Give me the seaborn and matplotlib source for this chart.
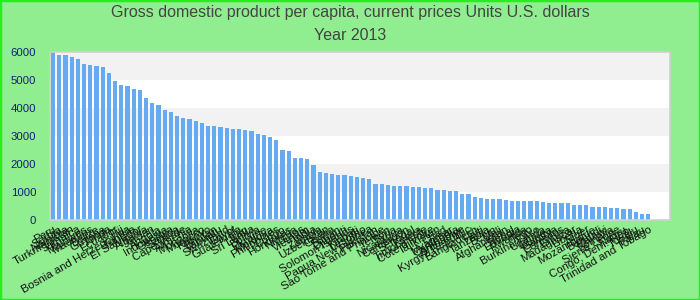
import matplotlib
matplotlib.use("Agg")
import matplotlib.pyplot as plt
import seaborn as sns
import pandas as pd
from matplotlib.patches import Rectangle

countries = [
    "Peru", "Serbia", "Namibia", "Turkmenistan", "Jamaica", "Maldives", "Mauritius",
    "Belize", "Guyana", "Tonga", "Ecuador", "Fiji", "Bosnia and Herzegovina", "Tunisia",
    "El Salvador", "Albania", "Jordan", "Angola", "Indonesia", "Georgia", "Samoa",
    "Cape Verde", "Armenia", "Mongolia", "Morocco", "Kosovo", "Bhutan", "Vanuatu",
    "Swaziland", "Egypt", "Guatemala", "Iraq", "Sri Lanka", "Bolivia", "Ukraine",
    "Moldova", "Philippines", "Congo", "Honduras", "Nigeria", "Laos", "Vietnam",
    "India", "Zambia", "Uzbekistan", "Ghana", "Sudan", "Djibouti", "Solomon Islands",
    "Kiribati", "Lesotho", "Papua New Guinea", "Pakistan", "Sao Tome and Principe",
    "Yemen", "Syria", "Nicaragua", "Cameroon", "Senegal", "Kenya", "Timor-Leste",
    "Cote d'Ivoire", "Tajikistan", "Chad", "Myanmar", "Cambodia", "Zimbabwe",
    "Kyrgyz Republic", "Bangladesh", "Haiti", "Tanzania", "Benin", "Mali",
    "Afghanistan", "Nepal", "Ethiopia", "Rwanda", "Togo", "Burkina Faso", "Uganda",
    "Guinea", "Gambia", "Comoros", "Eritrea", "Madagascar", "Liberia", "Niger",
    "Mozambique", "Burundi", "Malawi", "Somalia", "Sierra Leone", "Nauru",
    "Congo, Dem. Rep.", "Tuvalu", "Palau", "Trinidad and Tobago",
]

gdp_per_capita = [
    5990, 5880, 5880, 5810, 5740, 5560, 5525, 5490, 5450, 5240, 4955, 4810, 4775,
    4670, 4635, 4350, 4170, 4100, 3920, 3850, 3705, 3635, 3600, 3530, 3460, 3350,
    3350, 3315, 3280, 3245, 3245, 3210, 3170, 3065, 3030, 2960, 2850, 2495, 2460,
    2210, 2210, 2175, 1960, 1710, 1675, 1640, 1605, 1605, 1570, 1535, 1495, 1460,
    1285, 1285, 1245, 1210, 1210, 1210, 1175, 1175, 1140, 1140, 1070, 1070, 1035,
    1035, 925, 925, 820, 785, 750, 750, 750, 715, 680, 680, 680, 680, 680, 640,
    605, 605, 605, 605, 535, 535, 535, 465, 465, 465, 430, 430, 390, 390, 285,
    215, 215,
]

title_line1 = "Gross domestic product per capita, current prices Units U.S. dollars"
title_line2 = "Year 2013"
y_ticks = [0, 1000, 2000, 3000, 4000, 5000, 6000]

df = pd.DataFrame({"country": countries, "value": gdp_per_capita})

sns.set_style("white")
plt.rcParams["font.family"] = ["Liberation Sans", "DejaVu Sans"]

fig = plt.figure(figsize=(7, 3), dpi=100, facecolor="#90ee90")
ax = fig.add_axes([50 / 700, 80 / 300, 620 / 700, 168.3 / 300])
ax.set_facecolor("white")

for lo in (1000, 3000, 5000):
    ax.axhspan(lo, lo + 1000, color="#f2f2f2", zorder=0, lw=0)

sns.barplot(data=df, x="country", y="value", color="#66aaf2", saturation=1,
            width=0.65, linewidth=0, ax=ax, zorder=2)

ax.set_xlim(-0.5, 99.5)
ax.set_ylim(0, 6000)
ax.set_yticks(y_ticks)
ax.set_yticklabels([str(t) for t in y_ticks], color="#1a1a7a", fontsize=8.2)
ax.tick_params(axis="both", length=0)
ax.tick_params(axis="y", pad=10)
ax.tick_params(axis="x", pad=3)
for lab in ax.get_xticklabels():
    lab.set_rotation(30)
    lab.set_ha("right")
    lab.set_rotation_mode("anchor")
    lab.set_fontsize(8.2)
    lab.set_color("#111111")
ax.set_xlabel("")
ax.set_ylabel("")
for s in ax.spines.values():
    s.set_color("#d0d0d0")
    s.set_linewidth(1.2)

fig.text(0.5, 1 - 12 / 300, title_line1, ha="center", va="center",
         fontsize=11.5, color="#444444")
fig.text(0.5, 1 - 36 / 300, title_line2, ha="center", va="center",
         fontsize=11.5, color="#444444")

fig.patches.append(Rectangle((0, 0), 1, 1, transform=fig.transFigure,
                             fill=False, edgecolor="#22ee22", linewidth=2.5,
                             zorder=10))

fig.savefig("out.png", dpi=100, facecolor=fig.get_facecolor())
